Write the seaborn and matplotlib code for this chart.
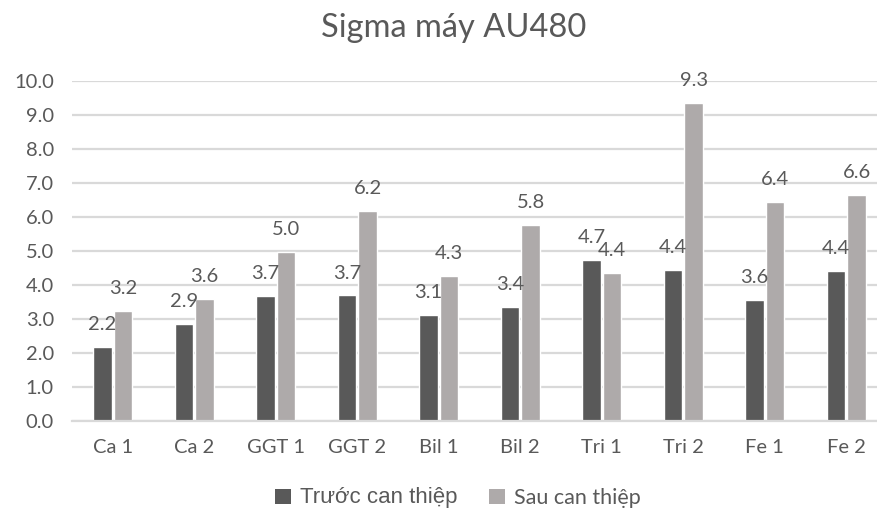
import matplotlib
matplotlib.use("Agg")
import matplotlib.pyplot as plt
import seaborn as sns
import pandas as pd
from matplotlib.patches import Patch

categories = ["Ca 1", "Ca 2", "GGT 1", "GGT 2", "Bil 1", "Bil 2", "Tri 1", "Tri 2", "Fe 1", "Fe 2"]
truoc = [2.17, 2.86, 3.67, 3.69, 3.12, 3.36, 4.73, 4.43, 3.56, 4.41]
sau = [3.23, 3.58, 4.97, 6.16, 4.26, 5.76, 4.36, 9.34, 6.43, 6.63]
series = ["Trước can thiệp", "Sau can thiệp"]
colors = ["#595959", "#AEAAAA"]
yticks = [0, 1, 2, 3, 4, 5, 6, 7, 8, 9, 10]

df = pd.DataFrame({
    "cat": categories * 2,
    "val": truoc + sau,
    "series": [series[0]] * len(categories) + [series[1]] * len(categories),
})

sns.set_style("white")
plt.rcParams["font.family"] = ["Lato", "DejaVu Sans"]
txt = "#595959"

fig = plt.figure(figsize=(8.77, 5.11), dpi=100)
W, H = 877, 511
ax = fig.add_axes([72 / W, (H - 421) / H, (887 - 72) / W, (421 - 80.7) / H])

sns.barplot(data=df, x="cat", y="val", hue="series", palette=colors,
            width=0.51, gap=0.11, ax=ax, legend=False, saturation=1)

ax.set_ylim(0, 10)
ax.set_xlim(-0.5, len(categories) - 0.5)
ax.set_yticks(yticks)
ax.set_yticklabels([f"{v:.1f}" for v in yticks])
ax.yaxis.grid(True, color="#D9D9D9", linewidth=1.6)
ax.set_axisbelow(True)
for s in ["top", "right", "left"]:
    ax.spines[s].set_visible(False)
ax.spines["bottom"].set_color("#D9D9D9")
ax.spines["bottom"].set_linewidth(1.6)
ax.tick_params(axis="both", length=0, labelsize=14.5, labelcolor=txt)
ax.tick_params(axis="y", pad=13)
ax.tick_params(axis="x", pad=13)
ax.set_xlabel("")
ax.set_ylabel("")

for cont in ax.containers:
    ax.bar_label(cont, fmt="%.1f", padding=10, fontsize=14.5, color=txt)

fig.text(454 / W, 1 - 28 / H, "Sigma máy AU480", ha="center", va="center",
         fontsize=23.5, color=txt)

handles = [Patch(facecolor=c, edgecolor="none") for c in colors]
leg = fig.legend(handles, series, loc="center", bbox_to_anchor=(458 / W, 1 - 498 / H),
                 ncol=2, frameon=False, handlelength=0.75, handleheight=0.75,
                 handletextpad=0.45, columnspacing=1.5, fontsize=15)
t0, t1 = leg.get_texts()
t0.set_fontfamily(["Liberation Sans", "DejaVu Sans"])
t0.set_fontsize(16)
t0.set_color(txt)
t1.set_fontsize(15.5)
t1.set_color(txt)

fig.savefig("out.png", dpi=100)
